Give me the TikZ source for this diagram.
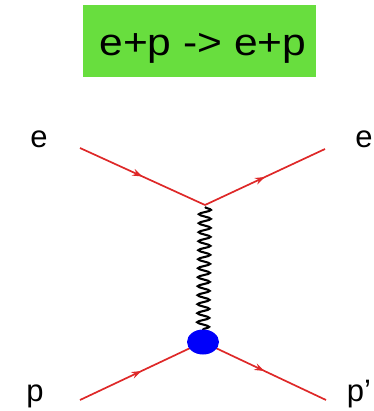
\documentclass[tikz,border=0pt]{standalone}
\usepackage{fontspec}
\setmainfont{Liberation Sans}
\usetikzlibrary{decorations.pathmorphing,decorations.markings,arrows.meta,shapes.geometric}
\definecolor{lineRed}{RGB}{222,40,40}
\definecolor{titleGreen}{RGB}{104,222,62}
\definecolor{blobBlue}{RGB}{0,0,250}
\tikzset{
  fermion/.style={draw=lineRed, line width=1.7pt,
    postaction={decorate, decoration={markings, mark=at position 0.5 with {\arrow[lineRed]{Stealth[length=10pt,width=7pt]}}}}},
  photon/.style={draw=black, line width=2.1pt, decorate,
    decoration={snake, segment length=9pt, amplitude=6pt}},
  lbl/.style={font=\fontsize{31}{34}\selectfont, inner sep=0pt},
}
\begin{document}
\begin{tikzpicture}[x=1pt,y=-1pt]
\useasboundingbox (0,0) rectangle (373,411);
\fill[titleGreen] (83,5) rectangle (316,77);
\node[inner sep=0pt, anchor=base, font=\fontsize{38}{40}\selectfont] (title) at (203,56) {\scalebox{1.12}[1]{e+p -> e+p}};
\coordinate (a) at (80,148);
\coordinate (b) at (325,149);
\coordinate (v) at (205,205);
\coordinate (c) at (80,400);
\coordinate (d) at (326,400);
\coordinate (w) at (203,342);
\coordinate (vs) at (205,207);
\coordinate (ws) at (203,333);
\draw[fermion] (a) -- (v);
\draw[fermion] (v) -- (b);
\draw[fermion] (c) -- (w);
\draw[fermion] (w) -- (d);
\draw[photon] (vs) -- (ws);
\node[ellipse, fill=blobBlue, minimum width=32pt, minimum height=25pt, inner sep=0pt] (blob) at (w) {};
\node[lbl] (e1) at (39,139) {e};
\node[lbl] (e2) at (364,139) {e};
\node[lbl, anchor=base] (p1) at (35,401) {p};
\node[lbl, anchor=base] (p2) at (359,401) {p’};
\end{tikzpicture}
\end{document}
